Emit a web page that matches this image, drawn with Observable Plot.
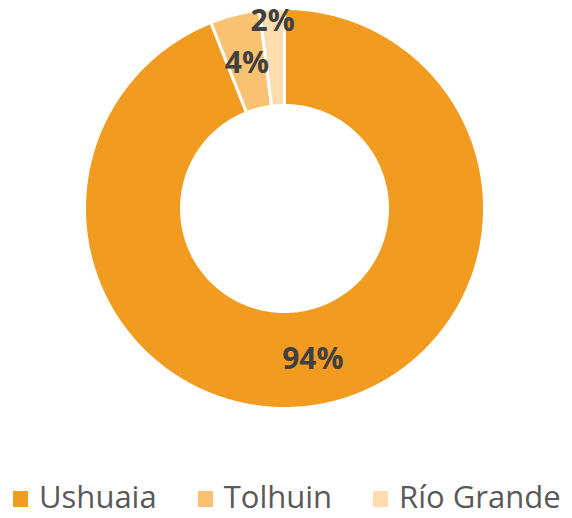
<!DOCTYPE html>
<html>
<head>
<meta charset="utf-8">
<script src="https://cdn.jsdelivr.net/npm/d3@7"></script>
<script src="https://cdn.jsdelivr.net/npm/@observablehq/plot@0.6"></script>
<style>
  html, body { margin: 0; padding: 0; background: #fff; }
  body { width: 572px; height: 518px; position: relative; overflow: hidden; font-family: "Open Sans", sans-serif; }
  #legend { position: absolute; left: 0; top: 481px; width: 572px; height: 31px; line-height: 31px; display: flex; align-items: center; justify-content: flex-start; padding-left: 13px; box-sizing: border-box; font-size: 31px; color: #595959; white-space: nowrap; }
  .item { display: flex; align-items: center; margin-right: 41px; }
  .sw { width: 15px; height: 16px; margin-right: 11px; margin-top: 4px; }
</style>
</head>
<body>
<div id="chart"></div>
<div id="legend"></div>
<script>
const categories = ["Ushuaia", "Tolhuin", "Río Grande"];
const values = [94, 4, 2];
const labels = ["94%", "4%", "2%"];
const colors = ["#F29B21", "#F9C272", "#FDDCAE"];

const innerR = 0.515;
const total = d3.sum(values);
const pie = d3.pie().sort(null).value(d => d.value)(categories.map((c, i) => ({name: c, value: values[i], label: labels[i]})));

// polygon points for each slice (unit circle coordinates, angle clockwise from top)
const pts = [];
for (const s of pie) {
  const n = Math.max(4, Math.ceil((s.endAngle - s.startAngle) / (Math.PI / 720)));
  const ring = [];
  for (let k = 0; k <= n; k++) {
    const a = s.startAngle + (s.endAngle - s.startAngle) * k / n;
    ring.push({name: s.data.name, x: Math.sin(a), y: Math.cos(a)});
  }
  for (let k = n; k >= 0; k--) {
    const a = s.startAngle + (s.endAngle - s.startAngle) * k / n;
    ring.push({name: s.data.name, x: innerR * Math.sin(a), y: innerR * Math.cos(a)});
  }
  ring.push(ring[0]);
  pts.push(...ring);
}

// labels at slice centroids; very thin slices pushed outward
const labelData = pie.map(s => {
  const a = (s.startAngle + s.endAngle) / 2;
  const frac = s.data.value / total;
  const r = frac < 0.03 ? 0.945 : (innerR + 1) / 2;
  return {name: s.data.name, label: s.data.label, x: r * Math.sin(a), y: r * Math.cos(a)};
});

const chart = Plot.plot({
  width: 572,
  height: 470,
  marginLeft: 84,
  marginRight: 88,
  marginTop: 8,
  marginBottom: 62,
  x: {domain: [-1, 1], axis: null},
  y: {domain: [-1, 1], axis: null},
  color: {domain: categories, range: colors},
  style: {fontFamily: "Open Sans, sans-serif", background: "#fff", overflow: "visible"},
  marks: [
    Plot.line(pts, {x: "x", y: "y", z: "name", fill: "name", stroke: "#fff", strokeWidth: 3, curve: "linear"}),
    Plot.text(labelData, {x: "x", y: "y", text: "label", fill: "#404040", fontSize: 30, fontWeight: "bold", dy: 2})
  ]
});
document.getElementById("chart").appendChild(chart);

const legend = document.getElementById("legend");
categories.forEach((c, i) => {
  const it = document.createElement("div");
  it.className = "item";
  const sw = document.createElement("div");
  sw.className = "sw";
  sw.style.background = colors[i];
  const tx = document.createElement("span");
  tx.textContent = c;
  it.appendChild(sw);
  it.appendChild(tx);
  legend.appendChild(it);
});
</script>
</body>
</html>
